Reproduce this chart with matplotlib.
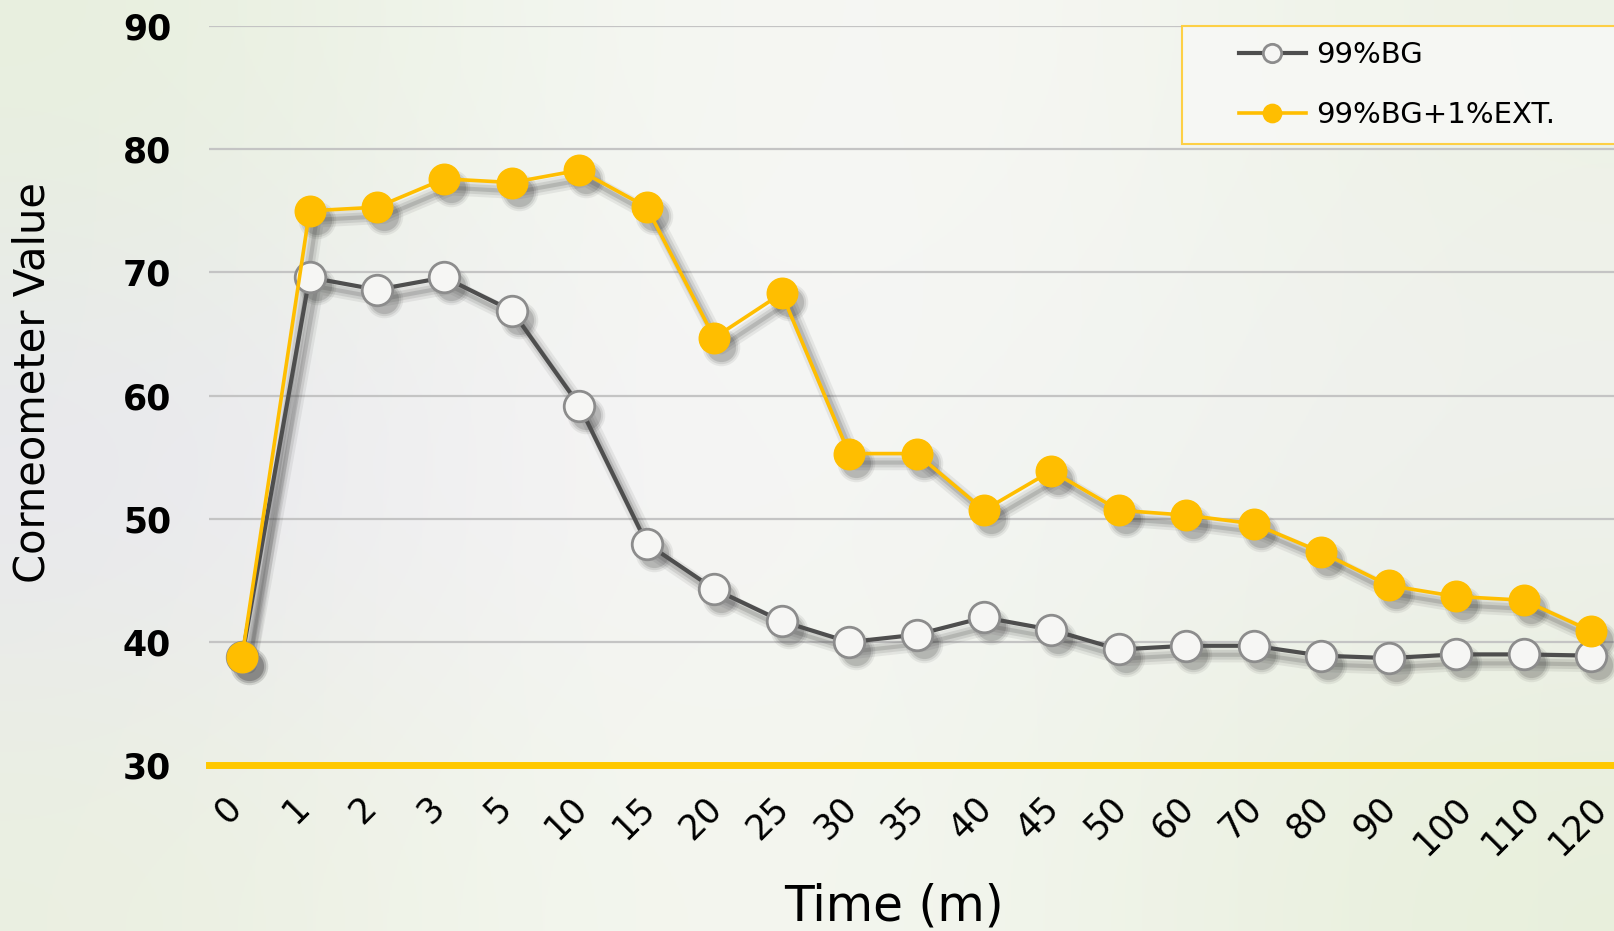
import numpy as np
import matplotlib.pyplot as plt
from matplotlib.patches import Rectangle
from matplotlib.transforms import offset_copy, ScaledTranslation

# sampling times (minutes) shown as categories
times = ["0", "1", "2", "3", "5", "10", "15", "20", "25", "30", "35",
         "40", "45", "50", "60", "70", "80", "90", "100", "110", "120"]
bg_only = [38.8, 69.6, 68.6, 69.6, 66.9, 59.2, 48.0, 44.3, 41.7, 40.0, 40.6,
           42.0, 41.0, 39.4, 39.7, 39.7, 38.9, 38.7, 39.0, 39.0, 38.9]
bg_ext = [38.8, 75.0, 75.3, 77.6, 77.3, 78.3, 75.3, 64.7, 68.3, 55.3, 55.3,
          50.7, 53.9, 50.7, 50.3, 49.6, 47.3, 44.6, 43.7, 43.4, 40.9]
yticks = [30, 40, 50, 60, 70, 80, 90]

YELLOW = "#ffbe00"
GREY_LINE = "#4e4e4e"

fig = plt.figure(figsize=(16.14, 9.31), dpi=100)

# soft backdrop
bg = fig.add_axes([0, 0, 1, 1], zorder=-10)
corners = np.array([
    [[0.91, 0.94, 0.87], [0.96, 0.97, 0.95], [0.97, 0.97, 0.96], [0.93, 0.95, 0.90]],
    [[0.91, 0.90, 0.95], [0.97, 0.96, 0.97], [0.95, 0.96, 0.95], [0.94, 0.94, 0.94]],
    [[0.92, 0.94, 0.88], [0.96, 0.97, 0.94], [0.95, 0.96, 0.93], [0.91, 0.94, 0.86]],
])
bg.imshow(corners, aspect="auto", interpolation="bicubic", extent=[0, 1, 0, 1])
bg.set_axis_off()

ax = fig.add_axes([0.1295, 0.178, 0.8705, 0.794])
ax.patch.set_alpha(0)
x = np.arange(len(times))

# grid lines
for v in yticks[1:]:
    ax.axhline(v, color="#c4c4c4", lw=1.6, zorder=1)
ax.axhline(30, color="#ffc800", lw=5, zorder=2, clip_on=False)

# drop shadows
shadow = offset_copy(ax.transData, fig=fig, x=7, y=-9, units="dots")
for vals in (bg_only, bg_ext):
    for k, a in enumerate([0.08, 0.11, 0.16]):
        ax.plot(x, vals, color="#303030", lw=3 + 4 * (2 - k), alpha=a,
                marker="o", ms=21 + 3 * (2 - k), mec="none",
                transform=shadow, zorder=3, solid_capstyle="round")

ax.plot(x, bg_only, color=GREY_LINE, lw=3, marker="o", ms=22,
        mfc="#f6f6f4", mec="#8c8c8c", mew=2, zorder=4, label="99%BG")
ax.plot(x, bg_ext, color=YELLOW, lw=2.6, marker="o", ms=22,
        mfc=YELLOW, mec=YELLOW, mew=1, zorder=5, label="99%BG+1%EXT.")

ax.set_xlim(-0.49, 20.34)
ax.set_ylim(30, 90)
ax.set_yticks(yticks)
ax.set_xticks(x)
ax.set_xticklabels(times, rotation=45, ha="center", va="top", fontsize=25,
                   fontfamily="DejaVu Sans")
ax.set_yticklabels([str(v) for v in yticks], fontsize=25, fontweight="bold",
                   fontfamily="DejaVu Sans")
ax.tick_params(axis="both", length=0)
ax.tick_params(axis="y", pad=62)
for lbl in ax.get_yticklabels():
    lbl.set_horizontalalignment("left")
ax.tick_params(axis="x", pad=18)
nudge = ScaledTranslation(-10 / 72, 0, fig.dpi_scale_trans)
for lbl in ax.get_xticklabels():
    lbl.set_transform(lbl.get_transform() + nudge)
for s in ax.spines.values():
    s.set_visible(False)

ax.set_xlabel("Time (m)", fontsize=35, fontfamily="DejaVu Sans", labelpad=15)
ax.xaxis.label.set_x(0.4875)
ax.set_ylabel("Corneometer Value", fontsize=30, fontfamily="DejaVu Sans")
ax.yaxis.set_label_coords(-0.1106, 0.518)

# legend box running off the right edge
box = Rectangle((0.6925, 0.841), 0.33, 0.159, transform=ax.transAxes,
                facecolor="#f7f8f5", edgecolor="#ffcc33", lw=1.5, alpha=0.9,
                zorder=9, clip_on=False)
ax.add_patch(box)
leg = ax.legend(loc="upper left", bbox_to_anchor=(0.7267, 0.992),
                bbox_transform=ax.transAxes,
                handlelength=2.3, handletextpad=0.35, markerscale=0.6,
                borderpad=0.3, labelspacing=1.1, borderaxespad=0,
                frameon=False, prop={"family": "DejaVu Sans", "size": 21})
leg.set_zorder(10)

fig.savefig("out.png", dpi=100)
